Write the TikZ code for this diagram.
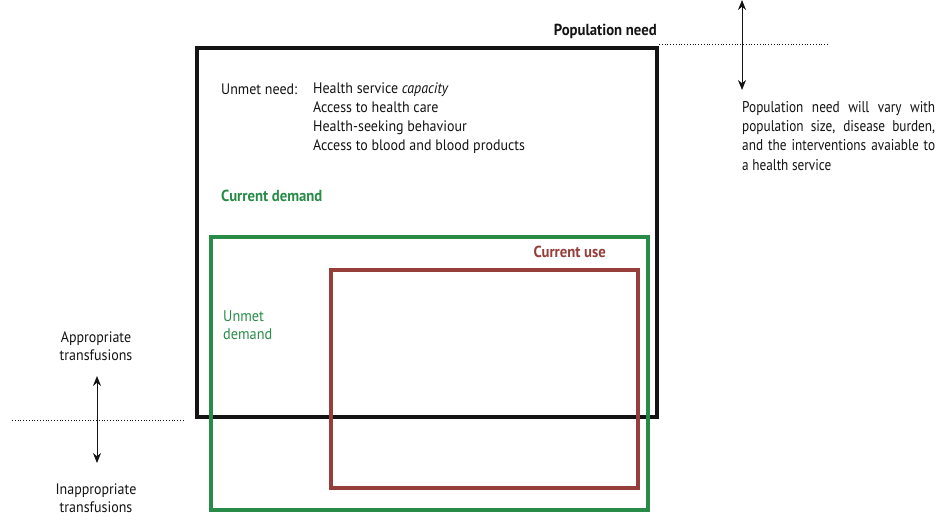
\documentclass[tikz,border=0pt]{standalone}
\usepackage{fontspec}
\setmainfont{PT Sans}[FakeStretch=0.92]
\newfontfamily\narrowfont{PT Sans}[FakeStretch=0.85]
\usetikzlibrary{arrows.meta}
\definecolor{dgreen}{RGB}{40,140,72}
\definecolor{dred}{RGB}{150,62,58}
\definecolor{ink}{RGB}{20,20,20}
\hyphenpenalty=10000
\exhyphenpenalty=10000
\tikzset{
  box/.style={line width=3.3pt},
  lbl/.style={inner sep=0pt, font=\fontsize{15.2}{18}\selectfont, text=ink},
  blbl/.style={lbl, font=\fontsize{16}{18}\selectfont\bfseries},
  dotline/.style={dotted, line width=0.8pt, ink},
  darrow/.style={{Stealth[length=10pt,width=8pt]}-{Stealth[length=10pt,width=8pt]}, line width=1pt, ink},
}
\begin{document}
\begin{tikzpicture}[x=1pt,y=-1pt]
\useasboundingbox (0,0) rectangle (945,522);
% boxes
\draw[box, ink] (197,48) rectangle (657,417);
\draw[box, dgreen] (211,237) rectangle (648,510);
\draw[box, dred] (331,270) rectangle (638,488);
% top labels
\node[blbl, anchor=base east] (popneed) at (657,35) {Population need};
\coordinate (dt1) at (659,44);
\coordinate (dt2) at (828,44);
\draw[dotline] (dt1) -- (dt2);
\coordinate (a1) at (742,0);
\coordinate (a2) at (742,90);
\draw[darrow] (a1) -- (a2);
\node[lbl, anchor=north west, text width=193pt, align=justify, font=\narrowfont\fontsize{15.6}{19.3}\selectfont] (vary) at (742,101)
  {Population need will vary with population size, disease burden, and the interventions avaiable to a health service};
% unmet need
\node[lbl, anchor=base west] (unmet) at (221,94) {Unmet need:};
\node[lbl, anchor=north west, align=left, font=\fontsize{15.2}{19}\selectfont] (list) at (313,83)
  {Health service \textit{capacity}\\Access to health care\\Health-seeking behaviour\\Access to blood and blood products};
\node[blbl, text=dgreen, anchor=base west] (cdem) at (221,201) {Current demand};
\node[blbl, text=dred, anchor=base east] (cuse) at (606,257) {Current use};
\node[lbl, text=dgreen, anchor=north west, align=left, font=\fontsize{15.5}{18}\selectfont] (udem) at (223,310) {Unmet\\demand};
% left labels
\node[lbl, align=center] (appr) at (96,346) {Appropriate\\transfusions};
\coordinate (b1) at (97,376);
\coordinate (b2) at (97,463);
\draw[darrow] (b1) -- (b2);
\coordinate (dl1) at (12,420);
\coordinate (dl2) at (183,420);
\draw[dotline] (dl1) -- (dl2);
\node[lbl, align=center] (inappr) at (96,498) {Inappropriate\\transfusions};
\end{tikzpicture}
\end{document}
